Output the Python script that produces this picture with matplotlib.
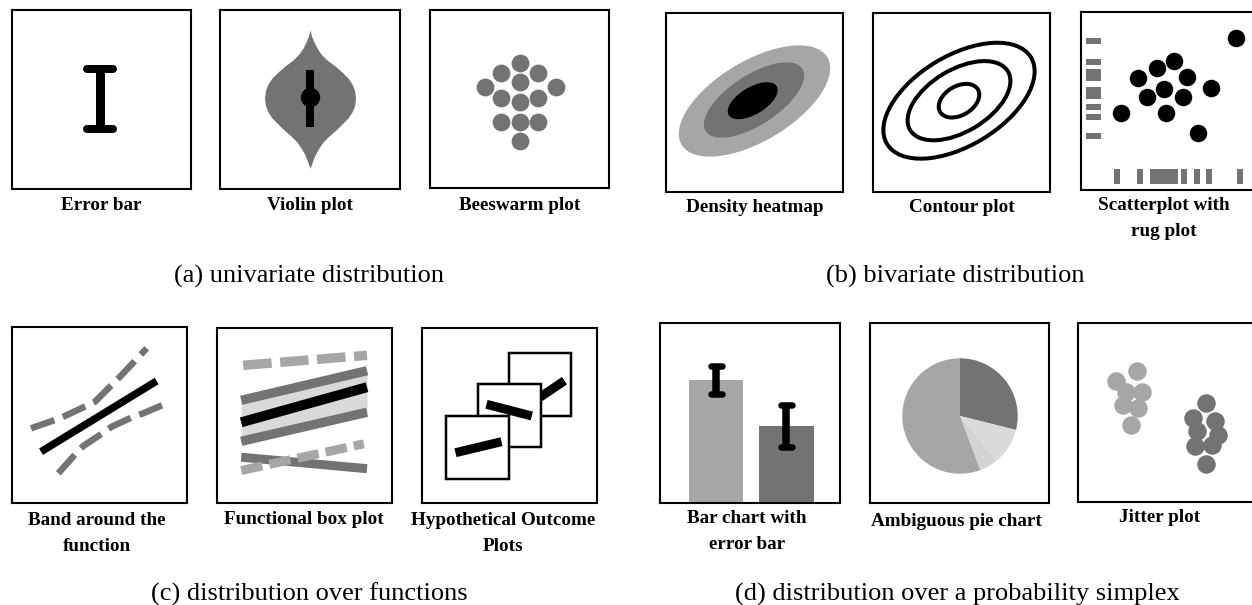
import matplotlib
matplotlib.use('Agg')
import matplotlib.pyplot as plt
from matplotlib.patches import Ellipse, Rectangle

plt.rcParams['font.family'] = ['Liberation Serif', 'DejaVu Serif']

W, H = 1252, 605
LIGHT = '#a6a6a6'
DARK = '#737373'
PALE = '#d9d9d9'

# ---------------------------------------------------------------
# data (panel units = pixels inside each little frame)
# ---------------------------------------------------------------
# (a) univariate
err_x, err_mean, err_half = 88.3, 89, 30

violin_y = [20, 26, 32, 38, 44, 50, 56, 62, 68, 74, 80, 88, 96, 102, 108, 114, 120, 126,
            132, 138, 144, 150, 158.3]
violin_hw = [0, 1.5, 4, 7, 11, 17, 25, 32, 38, 42, 44.5, 45.5, 44.5, 42, 38, 32, 26, 19,
             13, 9, 5.5, 3, 0]
violin_x = 90
violin_iqr = [60, 117.3]
violin_median = 87.3

swarm_x = [90, 71, 108.3, 90, 55, 126, 71, 108.3, 90, 71, 90, 108.3, 90]
swarm_y = [53.3, 63.3, 63.3, 71.7, 76.7, 76.7, 87.7, 87.7, 92.3, 111.7, 111.7, 111.7, 131]

# (b) bivariate
dens_cx = [88.8, 88.3, 87]
dens_cy = [88.3, 87.3, 88]
dens_w = [170, 115, 56]
dens_h = [80, 50, 27]
dens_angle = [31, 33, 31]
dens_colors = [LIGHT, DARK, 'black']

cont_cx, cont_cy = 85.7, 88
cont_w = [168, 114, 44]
cont_h = [90, 62, 29]
cont_angle = 31

scat_x = [154.7, 93, 76.3, 57.3, 105.7, 130, 83, 65.7, 101.7, 40, 84.7, 117.3]
scat_y = [26, 48.7, 56, 66, 65, 76, 76.7, 84.7, 84.7, 101, 101, 121]
rug_y = [28.7, 49.4, 59.4, 65.4, 77.2, 83.7, 94.4, 104.4, 123.4]
rug_x = [36.3, 58.7, 72, 78, 84, 90, 93.7, 103.3, 115.7, 128.3, 159]

# (c) functions
band_mid_x = [29.3, 145]
band_mid_y = [124.4, 53.7]
band_up_x = [19.3, 43.3, 51.6, 76.6, 83.3, 101.6, 108.3, 126.6, 135]
band_up_y = [101, 92.7, 89.4, 77.7, 74.4, 56, 49.4, 30, 21]
band_lo_x = [46.6, 65, 71.6, 91.6, 100, 121.6, 131.6, 153.3, 156.3]
band_lo_y = [146, 125.4, 118.7, 105.4, 99.4, 89.4, 86, 76.7, 76]

fb_x = [24.5, 150.3]
fb_median = [94.6, 59.5]
fb_q_hi = [72.6, 43]
fb_q_lo = [113.6, 84.6]
fb_whisk_x = [26.5, 150.3]
fb_whisk = [37.6, 27.6]
fb_out1 = [129.5, 141]
fb_out2_x = [24.5, 147.1]
fb_out2 = [142.8, 116.1]

hop_fx = [87.4, 56.9, 24.5]
hop_fy = [25.6, 56.6, 88.3]
hop_size = 62.5
hop_lx = [[100, 143], [65, 110.3], [34, 80]]
hop_ly = [[82, 53], [76.6, 88.3], [125, 114]]

# (d) probability simplex
bar_x = [56.6, 126.8]
bar_h = [122.7, 76.7]
bar_err = [13.8, 20.8]
bar_colors = [LIGHT, DARK]

pie_share = [28.9, 10.2, 5.2, 55.7]
pie_colors = [DARK, '#dadada', '#d3d3d3', LIGHT]

jit_a_x = [58.4, 37.7, 47.7, 63.4, 45, 60, 52.4]
jit_a_y = [47.4, 58, 68.7, 68.7, 81.4, 84.7, 102]
jit_b_x = [127.7, 115, 136.7, 118.4, 140, 116.7, 133.4, 127.7]
jit_b_y = [79.7, 94.7, 98, 108, 112, 123, 122, 140.7]

labels = ['Error bar', 'Violin plot', 'Beeswarm plot',
          'Density heatmap', 'Contour plot', 'Scatterplot with\nrug plot',
          'Band around the\nfunction', 'Functional box plot', 'Hypothetical Outcome\nPlots',
          'Bar chart with\nerror bar', 'Ambiguous pie chart', 'Jitter plot']
captions = ['(a) univariate distribution', '(b) bivariate distribution',
            '(c) distribution over functions', '(d) distribution over a probability simplex']

# frame boxes in figure pixels (x0, y0, x1, y1)
boxes = [(11.7, 10, 190.7, 189), (220, 10, 400, 189), (430, 10, 609, 188),
         (665.7, 12.7, 843.3, 191.7), (873.3, 12.7, 1050, 191.7), (1081, 12.3, 1258, 190),
         (11.7, 327.3, 187, 502.7), (216.7, 327.7, 392.2, 502.7), (421.5, 327.7, 597.1, 502.7),
         (659.5, 323.3, 840.2, 502.7), (869.5, 323.3, 1049.2, 502.7), (1078.3, 323.3, 1258, 502.3)]
label_pos = [(101, 205), (310, 205), (519.5, 205), (754.5, 207), (961.7, 207), (1164, 218.5),
             (96.6, 533.5), (303.5, 520), (503, 533.5), (746.8, 531.7), (956.5, 521.7), (1160, 518)]
caption_pos = [(309.5, 276), (955, 276), (309.5, 594), (957.6, 594)]


def pt(p):
    # pixels -> points at 100 dpi
    return p * 0.72


def dot(p):
    return pt(p) ** 2


fig = plt.figure(figsize=(W / 100, H / 100), dpi=100)


def panel(box, y_up=False):
    x0, y0, x1, y1 = box
    ax = fig.add_axes([x0 / W, 1 - y1 / H, (x1 - x0) / W, (y1 - y0) / H])
    ax.set_xlim(0, x1 - x0)
    if y_up:
        ax.set_ylim(0, y1 - y0)
    else:
        ax.set_ylim(y1 - y0, 0)
    ax.set_xticks([])
    ax.set_yticks([])
    for s in ax.spines.values():
        s.set_linewidth(1.5)
        s.set_color('black')
    return ax


axes = [panel(b, y_up=(i in (9, 10))) for i, b in enumerate(boxes)]

# error bar
ax = axes[0]
ax.plot([err_x, err_x], [err_mean - err_half, err_mean + err_half], color='black', lw=pt(9), solid_capstyle='butt')
for yy in (err_mean - err_half, err_mean + err_half):
    ax.plot([err_x - 13, err_x + 13], [yy, yy], color='black', lw=pt(8), solid_capstyle='round')

# violin
ax = axes[1]
ax.fill_betweenx(violin_y, [violin_x - w for w in violin_hw], [violin_x + w for w in violin_hw],
                 color=DARK, lw=0)
ax.plot([violin_x, violin_x], violin_iqr, color='black', lw=pt(8), solid_capstyle='butt')
ax.scatter([violin_x], [violin_median], s=dot(18), color='black', zorder=3)

# beeswarm
axes[2].scatter(swarm_x, swarm_y, s=dot(17.8), color=DARK, lw=0)

# density heatmap
ax = axes[3]
for cx, cy, w, h, a, c in zip(dens_cx, dens_cy, dens_w, dens_h, dens_angle, dens_colors):
    ax.add_patch(Ellipse((cx, cy), w, h, angle=-a, facecolor=c, edgecolor='none'))

# contour plot
ax = axes[4]
for w, h in zip(cont_w, cont_h):
    ax.add_patch(Ellipse((cont_cx, cont_cy), w, h, angle=-cont_angle, facecolor='none',
                         edgecolor='black', lw=pt(4)))

# scatter + rug
ax = axes[5]
ax.scatter(scat_x, scat_y, s=dot(17.5), color='black', lw=0, zorder=3)
ax.hlines(rug_y, 4.7, 20, color=DARK, lw=pt(6))
ax.vlines(rug_x, 156.7, 172, color=DARK, lw=pt(6))

# band around the function
ax = axes[6]
ax.plot(band_up_x, band_up_y, color=DARK, lw=pt(6.5), ls=(0, (3.8, 1.4)))
ax.plot(band_lo_x, band_lo_y, color=DARK, lw=pt(6.5), ls=(0, (3.8, 1.4)))
ax.plot(band_mid_x, band_mid_y, color='black', lw=pt(7.5), solid_capstyle='butt')

# functional box plot
ax = axes[7]
ax.fill_between(fb_x, fb_q_hi, fb_q_lo, color=PALE, lw=0)
ax.plot(fb_x, fb_q_hi, color=DARK, lw=pt(9.3), solid_capstyle='butt')
ax.plot(fb_x, fb_q_lo, color=DARK, lw=pt(9.3), solid_capstyle='butt')
ax.plot(fb_x, fb_median, color='black', lw=pt(10), solid_capstyle='butt')
ax.plot(fb_whisk_x, fb_whisk, color=LIGHT, lw=pt(9.5), ls=(0, (3.0, 0.9)))
ax.plot(fb_x, fb_out1, color=DARK, lw=pt(9), solid_capstyle='butt')
ax.plot(fb_out2_x, fb_out2, color=LIGHT, lw=pt(9), ls=(0, (2.4, 0.8)))

# hypothetical outcome plots
ax = axes[8]
z = 1
for fx, fy, lx, ly in zip(hop_fx, hop_fy, hop_lx, hop_ly):
    ax.add_patch(Rectangle((fx, fy), hop_size, hop_size, facecolor='white', edgecolor='black',
                           lw=pt(2.5), zorder=z))
    ax.plot(lx, ly, color='black', lw=pt(9), solid_capstyle='butt', zorder=z + 1)
    z += 2

# bar chart with error bars
ax = axes[9]
ax.bar(bar_x, bar_h, width=54.6, color=bar_colors)
for x, h, e in zip(bar_x, bar_h, bar_err):
    ax.plot([x, x], [h - e, h + e], color='black', lw=pt(7.5), solid_capstyle='butt')
    for yy in (h - e, h + e):
        ax.plot([x - 5.5, x + 5.5], [yy, yy], color='black', lw=pt(6.5), solid_capstyle='round')

# ambiguous pie
ax = axes[10]
ax.pie(pie_share, colors=pie_colors, startangle=90, counterclock=False,
       center=(90.5, 86.7), radius=57.7, frame=True, wedgeprops=dict(lw=0))
ax.set_aspect('auto')
ax.set_xlim(0, boxes[10][2] - boxes[10][0])
ax.set_ylim(0, boxes[10][3] - boxes[10][1])
ax.set_xticks([])
ax.set_yticks([])

# jitter
ax = axes[11]
ax.scatter(jit_a_x, jit_a_y, s=dot(18.5), color=LIGHT, lw=0)
ax.scatter(jit_b_x, jit_b_y, s=dot(18.5), color=DARK, lw=0)

for t, (x, y) in zip(labels, label_pos):
    fig.text(x / W, 1 - y / H, t, ha='center', va='center', fontsize=13.8,
             fontweight='bold', linespacing=1.65)
for t, (x, y) in zip(captions, caption_pos):
    fig.text(x / W, 1 - y / H, t, ha='center', va='center', fontsize=19)

fig.savefig('out.png', dpi=100)
